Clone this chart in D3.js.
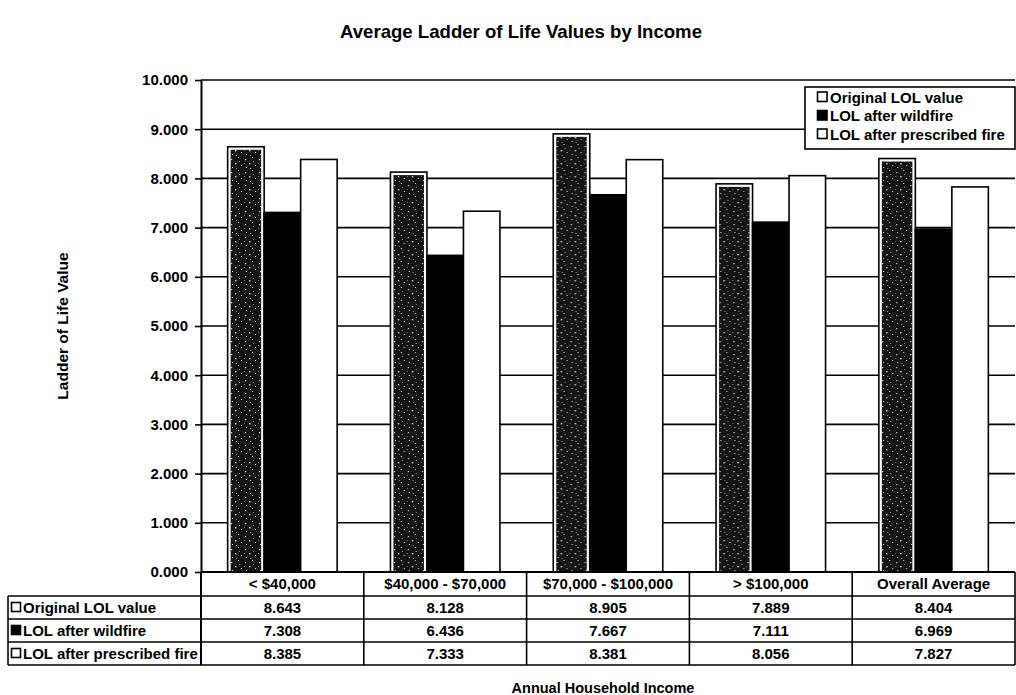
<!DOCTYPE html>
<html>
<head>
<meta charset="utf-8">
<script src="https://cdn.jsdelivr.net/npm/d3@7"></script>
<style>
  body { margin: 0; background: #fff; }
  text { font-family: "Liberation Sans", Arial, Helvetica, sans-serif; fill: #000; }
</style>
</head>
<body>
<svg id="chart" width="1016" height="695"></svg>
<script>
// Income groups and the three ladder-of-life series
const categories = ["< $40,000", "$40,000 - $70,000", "$70,000 - $100,000", "> $100,000", "Overall Average"];
const seriesNames = ["Original LOL value", "LOL after wildfire", "LOL after prescribed fire"];
const originalValues = [8.643, 8.128, 8.905, 7.889, 8.404];
const wildfireValues = [7.308, 6.436, 7.667, 7.111, 6.969];
const prescribedValues = [8.385, 7.333, 8.381, 8.056, 7.827];
const yTickValues = [0, 1, 2, 3, 4, 5, 6, 7, 8, 9, 10];

const seriesValues = [originalValues, wildfireValues, prescribedValues];
const seriesKeys = ["orig", "wild", "presc"];

const W = 1016, H = 695;
const plot = { left: 201, right: 1015, top: 80, bottom: 572 };
const table = { left: 8, headerTop: 572, rowTop: 596, rowH: 23 };

const svg = d3.select("#chart");
svg.append("rect").attr("width", W).attr("height", H).attr("fill", "#fff");

// speckled dark texture for the first series
const defs = svg.append("defs");
const pat = defs.append("pattern").attr("id", "speckle")
  .attr("patternUnits", "userSpaceOnUse").attr("width", 14).attr("height", 13);
pat.append("rect").attr("width", 14).attr("height", 13).attr("fill", "#141414");
[[2,3,1.2],[9,1,1],[6,7,1.4],[12,9,1],[3,11,1],[10,5,0.8],[1,7,0.7],[7,12,0.8]]
  .forEach(([cx, cy, r]) => pat.append("rect")
    .attr("x", cx).attr("y", cy).attr("width", r).attr("height", r).attr("fill", "#ddd"));

const y = d3.scaleLinear().domain([0, 10]).range([plot.bottom, plot.top]);
const x0 = d3.scaleBand().domain(categories).range([plot.left, plot.right]);
const x1 = d3.scaleBand().domain(seriesKeys).range([0, x0.bandwidth()])
  .paddingInner(0).paddingOuter(0.73);

// title
svg.append("text").attr("x", 521).attr("y", 38).attr("text-anchor", "middle")
  .attr("font-size", 18.6).attr("font-weight", "bold")
  .text("Average Ladder of Life Values by Income");

// horizontal gridlines
svg.append("g").selectAll("line").data(yTickValues.filter(d => d > 0)).join("line")
  .attr("x1", plot.left).attr("x2", plot.right)
  .attr("y1", d => y(d)).attr("y2", d => y(d))
  .attr("stroke", "#000").attr("stroke-width", 1.6);

// y axis
const yAxis = svg.append("g").attr("transform", `translate(${plot.left},0)`)
  .call(d3.axisLeft(y).tickValues(yTickValues).tickFormat(d3.format(".3f")).tickSize(6).tickSizeOuter(0));
yAxis.select(".domain").attr("stroke-width", 2);
yAxis.selectAll(".tick line").attr("stroke-width", 1.6);
yAxis.selectAll(".tick text").attr("font-size", 15).attr("font-weight", "bold")
  .attr("x", -13).style("font-family", "'Liberation Sans', Arial, sans-serif");

svg.append("text").attr("transform", `translate(68,${(plot.top + plot.bottom) / 2}) rotate(-90)`)
  .attr("text-anchor", "middle").attr("font-size", 15.5).attr("font-weight", "bold")
  .text("Ladder of Life Value");

// bars
const groups = svg.append("g").selectAll("g").data(categories).join("g")
  .attr("transform", d => `translate(${x0(d)},0)`);

groups.each(function(cat, i) {
  const g = d3.select(this);
  // original value: outlined bar with a white inset around the speckled fill
  const xo = x1("orig"), bw = x1.bandwidth();
  const yo = y(originalValues[i]);
  g.append("rect").attr("x", xo).attr("y", yo).attr("width", bw).attr("height", plot.bottom - yo)
    .attr("fill", "#fff").attr("stroke", "#000").attr("stroke-width", 1.6);
  g.append("rect").attr("x", xo + 3).attr("y", yo + 3).attr("width", bw - 6).attr("height", plot.bottom - yo - 4)
    .attr("fill", "url(#speckle)");
  // after wildfire: solid black
  const yw = y(wildfireValues[i]);
  g.append("rect").attr("x", x1("wild")).attr("y", yw).attr("width", bw).attr("height", plot.bottom - yw)
    .attr("fill", "#000").attr("stroke", "#000").attr("stroke-width", 1.6);
  // after prescribed fire: white outlined
  const yp = y(prescribedValues[i]);
  g.append("rect").attr("x", x1("presc")).attr("y", yp).attr("width", bw).attr("height", plot.bottom - yp)
    .attr("fill", "#fff").attr("stroke", "#000").attr("stroke-width", 1.6);
});

// data table
const tbl = svg.append("g");
const lineAttrs = sel => sel.attr("stroke", "#000").attr("stroke-width", 1.6);
const tableBottom = table.rowTop + table.rowH * 3;

// horizontal rules
tbl.append("line").attr("x1", plot.left).attr("x2", plot.right)
  .attr("y1", plot.bottom).attr("y2", plot.bottom).call(lineAttrs).attr("stroke-width", 2);
[0, 1, 2, 3].forEach(k => {
  const yy = table.rowTop + k * table.rowH;
  tbl.append("line").attr("x1", table.left).attr("x2", plot.right)
    .attr("y1", yy).attr("y2", yy).call(lineAttrs);
});
// vertical rules
tbl.append("line").attr("x1", table.left).attr("x2", table.left)
  .attr("y1", table.rowTop).attr("y2", tableBottom).call(lineAttrs);
tbl.append("line").attr("x1", plot.left).attr("x2", plot.left)
  .attr("y1", plot.bottom).attr("y2", tableBottom).call(lineAttrs).attr("stroke-width", 2);
categories.forEach(c => {
  const xx = x0(c) + x0.bandwidth();
  tbl.append("line").attr("x1", xx).attr("x2", xx)
    .attr("y1", table.headerTop).attr("y2", tableBottom).call(lineAttrs);
});

// header labels
tbl.selectAll("text.hdr").data(categories).join("text").attr("class", "hdr")
  .attr("x", d => x0(d) + x0.bandwidth() / 2).attr("y", table.headerTop + 17)
  .attr("text-anchor", "middle").attr("font-size", 15).attr("font-weight", "bold")
  .text(d => d);

// row labels with swatches, and values
const swatchFill = ["#fff", "#000", "#fff"];
seriesNames.forEach((name, r) => {
  const cy = table.rowTop + r * table.rowH + table.rowH / 2;
  tbl.append("rect").attr("x", 11.5).attr("y", cy - 5).attr("width", 9).attr("height", 9)
    .attr("fill", swatchFill[r]).attr("stroke", "#000").attr("stroke-width", 1.6);
  tbl.append("text").attr("x", 23).attr("y", cy + 5.5).attr("font-size", 15)
    .attr("font-weight", "bold").text(name);
  seriesValues[r].forEach((v, i) => {
    tbl.append("text").attr("x", x0(categories[i]) + x0.bandwidth() / 2).attr("y", cy + 5.5)
      .attr("text-anchor", "middle").attr("font-size", 15).attr("font-weight", "bold")
      .text(d3.format(".3f")(v));
  });
});

svg.append("text").attr("x", 603).attr("y", 693).attr("text-anchor", "middle")
  .attr("font-size", 14.5).attr("font-weight", "bold").text("Annual Household Income");

// legend
const leg = svg.append("g");
leg.append("rect").attr("x", 805).attr("y", 87).attr("width", 210).attr("height", 62)
  .attr("fill", "#fff").attr("stroke", "#000").attr("stroke-width", 1.6);
seriesNames.forEach((name, r) => {
  const cy = 97 + r * 18.5;
  leg.append("rect").attr("x", 817.5).attr("y", cy - 5).attr("width", 9.5).attr("height", 9.5)
    .attr("fill", swatchFill[r]).attr("stroke", "#000").attr("stroke-width", 1.6);
  leg.append("text").attr("x", 830).attr("y", cy + 5.5).attr("font-size", 15)
    .attr("font-weight", "bold").text(name);
});
</script>
</body>
</html>
